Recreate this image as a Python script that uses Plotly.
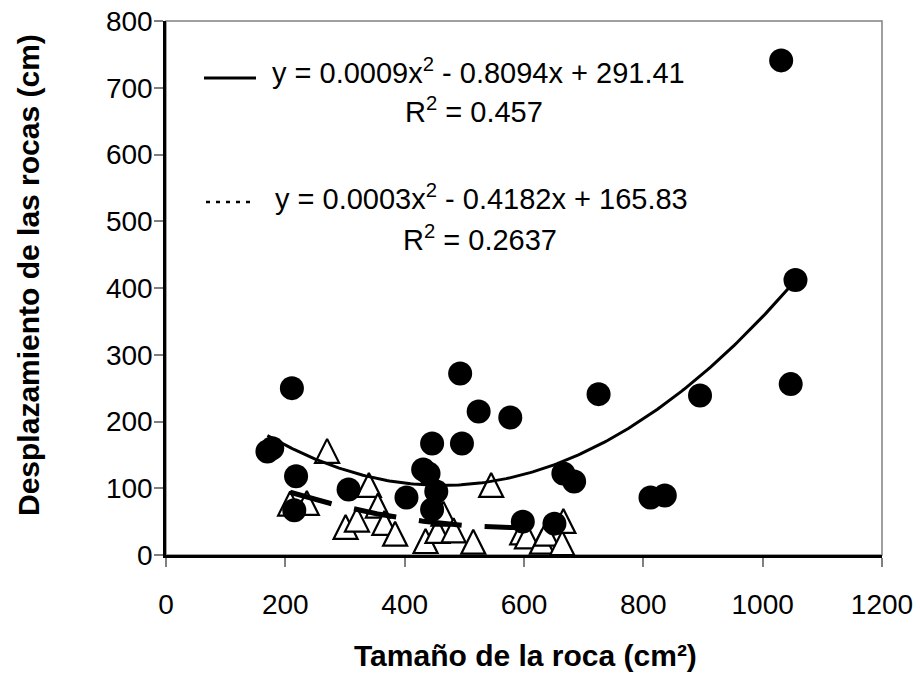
import numpy as np
import plotly.graph_objects as go

# ---- data ----
circ_x = [170, 178, 211, 215, 218, 306, 403, 431, 440, 446, 446, 453, 493, 496,
          524, 577, 598, 651, 666, 684, 725, 812, 836, 895, 1031, 1047, 1055]
circ_y = [155, 160, 250, 67, 118, 98, 86, 128, 122, 167, 68, 95, 272, 167,
          215, 206, 50, 47, 122, 110, 241, 86, 89, 239, 741, 256, 412]

tri_x = [208, 236, 270, 301, 320, 340, 355, 366, 384, 435, 455, 465, 482, 515,
         545, 597, 605, 630, 637, 664, 666]
tri_y = [77, 78, 156, 42, 53, 105, 74, 48, 32, 21, 36, 62, 37, 20,
         105, 34, 28, 20, 32, 18, 51]

# trendline coefficients (displayed equations; quadratic term unrounded to match drawn curve)
fit_circ = [0.000875, -0.8094, 291.41]
fit_tri = [0.00035, -0.4182, 165.83]

eq_circ = "y = 0.0009x<sup>2</sup> - 0.8094x + 291.41"
r2_circ = "R<sup>2</sup> = 0.457"
eq_tri = "y = 0.0003x<sup>2</sup> - 0.4182x + 165.83"
r2_tri = "R<sup>2</sup> = 0.2637"

x_title = "Tamaño de la roca (cm²)"
y_title = "Desplazamiento de las rocas (cm)"
x_ticks = [0, 200, 400, 600, 800, 1000, 1200]
y_ticks = [0, 100, 200, 300, 400, 500, 600, 700, 800]

FONT = "Liberation Sans, Arial, sans-serif"

xc = np.linspace(min(circ_x), max(circ_x), 200)
yc = np.polyval(fit_circ, xc)
xt = np.linspace(min(tri_x), max(tri_x), 200)
yt = np.polyval(fit_tri, xt)

fig = go.Figure()
fig.add_trace(go.Scatter(
    x=tri_x, y=tri_y, mode="markers",
    marker=dict(symbol="arrow-down", angle=180, standoff=12, size=24,
                color="white", line=dict(color="black", width=2.2)),
    showlegend=False, hoverinfo="skip"))
fig.add_trace(go.Scatter(
    x=xt, y=yt, mode="lines",
    line=dict(color="black", width=5, dash="43px,23px"),
    showlegend=False, hoverinfo="skip"))
fig.add_trace(go.Scatter(
    x=circ_x, y=circ_y, mode="markers",
    marker=dict(symbol="circle", size=24, color="black", line=dict(width=0)),
    showlegend=False, hoverinfo="skip"))
fig.add_trace(go.Scatter(
    x=xc, y=yc, mode="lines",
    line=dict(color="black", width=3),
    showlegend=False, hoverinfo="skip"))

L, R, T, B = 166, 38, 21, 120
W, H = 920, 675
pw, ph = W - L - R, H - T - B


def px(xp):
    return (xp - L) / pw


def py(yp):
    return (H - B - yp) / ph


annots = [
    dict(text=eq_circ, x=px(270), y=py(71), xanchor="left", yanchor="middle"),
    dict(text=r2_circ, x=px(474), y=py(110), xanchor="center", yanchor="middle"),
    dict(text=eq_tri, x=px(273), y=py(197), xanchor="left", yanchor="middle"),
    dict(text=r2_tri, x=px(480), y=py(238), xanchor="center", yanchor="middle"),
]
for a in annots:
    a.update(xref="paper", yref="paper", showarrow=False,
             font=dict(family=FONT, size=29, color="black"))

annots.append(dict(text="<b>" + x_title + "</b>", x=px(525), y=py(655),
                   xref="paper", yref="paper", showarrow=False,
                   xanchor="center", yanchor="middle",
                   font=dict(family=FONT, size=30, color="black")))
annots.append(dict(text="<b>" + y_title + "</b>", x=px(28), y=py(275),
                   xref="paper", yref="paper", showarrow=False, textangle=-90,
                   xanchor="center", yanchor="middle",
                   font=dict(family=FONT, size=30, color="black")))

shapes = [
    dict(type="rect", xref="x domain", yref="y domain", x0=0, x1=1, y0=0, y1=1,
         line=dict(color="#808080", width=1.5), layer="below"),
    dict(type="line", xref="paper", yref="paper", x0=px(204), x1=px(256),
         y0=py(78), y1=py(78), line=dict(color="black", width=3)),
    dict(type="line", xref="paper", yref="paper", x0=px(206), x1=px(256),
         y0=py(202), y1=py(202), line=dict(color="black", width=2.5, dash="4px,6px")),
]

fig.update_layout(
    width=W, height=H,
    margin=dict(l=L, r=R, t=T, b=B, pad=0, autoexpand=False),
    paper_bgcolor="white", plot_bgcolor="white",
    annotations=annots, shapes=shapes,
    font=dict(family=FONT, size=28, color="black"),
)
fig.update_xaxes(range=[0, 1200], tickvals=x_ticks, ticks="outside", ticklen=9,
                 tickcolor="#808080", tickwidth=1.5, showline=True, linecolor="black",
                 linewidth=2.5, showgrid=False, zeroline=False, automargin=False,
                 ticklabelstandoff=14,
                 tickfont=dict(family=FONT, size=28, color="black"))
fig.update_yaxes(range=[0, 800], tickvals=y_ticks, ticks="outside", ticklen=9,
                 tickcolor="#808080", tickwidth=1.5, showline=True, linecolor="black",
                 linewidth=2.5, showgrid=False, zeroline=False, automargin=False,
                 ticklabelstandoff=-4,
                 tickfont=dict(family=FONT, size=28, color="black"))

fig.write_html("out.html")
